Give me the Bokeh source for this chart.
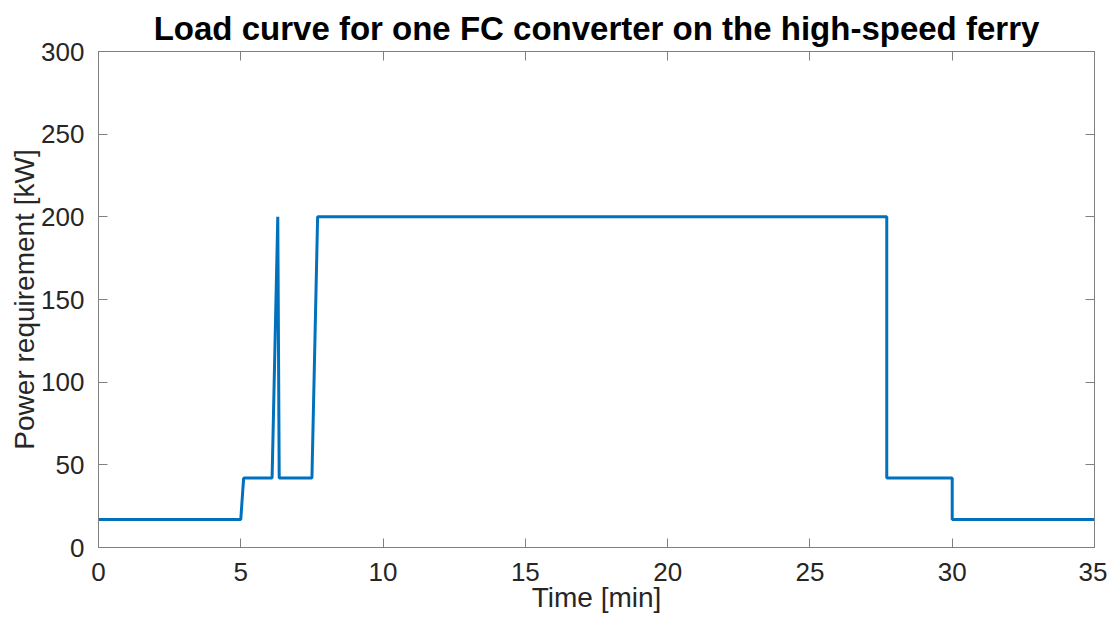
from bokeh.plotting import figure
from bokeh.models import LinearAxis, Range1d, FixedTicker
from bokeh.embed import file_html
from bokeh.resources import INLINE

# Data (time in minutes, power in kW)
time_min = [0, 5.0, 5.1, 6.1, 6.3, 6.35, 7.5, 7.7, 27.7, 27.7, 30.0, 30.0, 35]
power_kw = [17, 17, 42, 42, 200, 42, 42, 200, 200, 42, 42, 17, 17]

x_ticks = [0, 5, 10, 15, 20, 25, 30, 35]
y_ticks = [0, 50, 100, 150, 200, 250, 300]

title_text = "Load curve for one FC converter on the high-speed ferry"
x_label = "Time [min]"
y_label = "Power requirement [kW]"

FONT = "Liberation Sans"
TXT = "#262626"
AX = "#808080"

p = figure(width=1107, height=615, output_backend="svg", toolbar_location=None,
           x_range=Range1d(0, 35), y_range=Range1d(0, 300),
           x_axis_location=None, y_axis_location=None)

p.title.text = title_text
p.title.text_font = FONT
p.title.text_font_size = "33px"
p.title.text_font_style = "bold"
p.title.text_color = "#000000"
p.title.align = "center"
p.title.offset = 0
p.title.standoff = 10

p.xgrid.visible = False
p.ygrid.visible = False
p.outline_line_color = AX
p.outline_line_width = 1
p.background_fill_color = "white"
p.border_fill_color = "white"

def style(ax, labels=True):
    ax.axis_line_color = AX
    ax.major_tick_line_color = AX
    ax.major_tick_in = 9
    ax.major_tick_out = 0
    ax.minor_tick_line_color = None
    ax.major_label_text_font = FONT
    ax.major_label_text_font_size = "26px"
    ax.major_label_text_color = TXT if labels else None
    ax.axis_label_text_font = FONT
    ax.axis_label_text_font_size = "28px"
    ax.axis_label_text_font_style = "normal"
    ax.axis_label_text_color = TXT

xb = LinearAxis(ticker=FixedTicker(ticks=x_ticks), axis_label=x_label)
style(xb)
xb.major_label_standoff = 15
xb.axis_label_standoff = -2
p.add_layout(xb, "below")

yl = LinearAxis(ticker=FixedTicker(ticks=y_ticks), axis_label=y_label)
style(yl)
yl.major_label_standoff = 14
yl.axis_label_standoff = -2
p.add_layout(yl, "left")

xt = LinearAxis(ticker=FixedTicker(ticks=x_ticks))
style(xt, labels=False)
xt.major_label_text_font_size = "0px"
xt.major_label_standoff = 0
p.add_layout(xt, "above")

yr = LinearAxis(ticker=FixedTicker(ticks=y_ticks))
style(yr, labels=False)
yr.major_label_text_font_size = "0px"
yr.major_label_standoff = 0
p.add_layout(yr, "right")

p.line(time_min, power_kw, line_color="#0072BD", line_width=3)

p.min_border_left = 98
p.min_border_right = 13
p.min_border_top = 51
p.min_border_bottom = 67

open("out.html", "w").write(file_html(p, INLINE))
